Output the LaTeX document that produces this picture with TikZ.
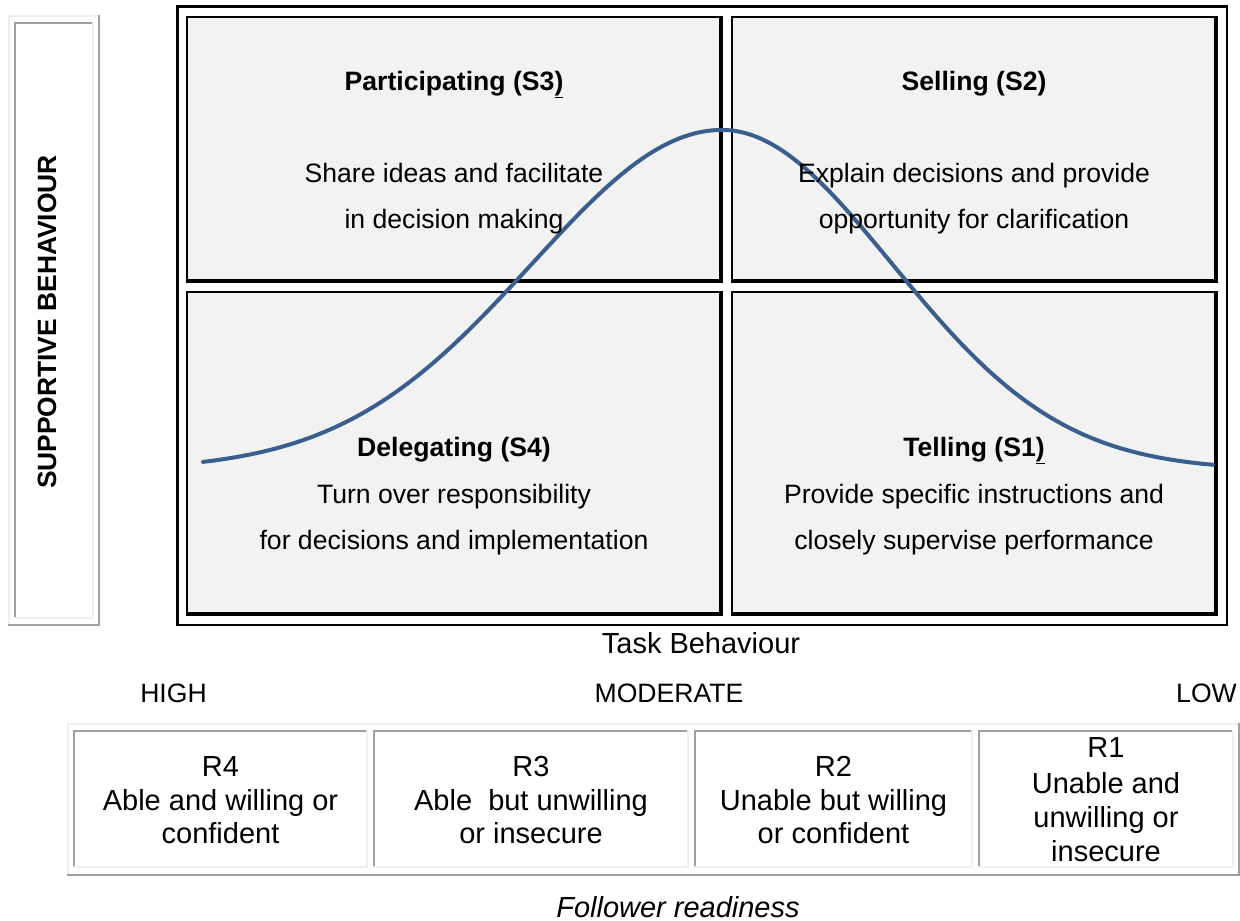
\documentclass[tikz,border=0pt]{standalone}
\usepackage{fontspec}
\setmainfont{Liberation Sans}
\definecolor{quadfill}{HTML}{F2F2F2}
\definecolor{curveblue}{HTML}{3A5F8E}
\definecolor{bevlight}{HTML}{EFEFEF}
\definecolor{bevdark}{HTML}{A0A0A0}
\newcommand\quadbox[4]{%
  \fill[quadfill] (#1,#2) rectangle (#3,#4);
  \draw[line width=2pt] ({#1+1},#4) -- ({#1+1},{#2+1}) -- (#3,{#2+1});
  \draw[line width=4pt] ({#3-2},#2) -- ({#3-2},{#4-2}) -- (#1,{#4-2});
}
\newcommand\bevelbox[6]{%
  \draw[#5,line width=2pt] ({#1+1},#4) -- ({#1+1},{#2+1}) -- (#3,{#2+1});
  \draw[#6,line width=2pt] (#1,{#4-1}) -- ({#3-1},{#4-1}) -- ({#3-1},#2);
}
\begin{document}
\begin{tikzpicture}[x=1pt,y=-1pt,
  qtxt/.style={font=\fontsize{26.6}{30}\selectfont, anchor=base, inner sep=0pt},
  qtitle/.style={font=\fontsize{26.6}{30}\selectfont\bfseries, anchor=base, inner sep=0pt},
  ctxt/.style={font=\fontsize{29}{33}\selectfont, anchor=base, inner sep=0pt},
  curve/.style={curveblue, line width=4pt, line cap=round, line join=round}]
\useasboundingbox (0,0) rectangle (1240,921);
\fill[white] (0,0) rectangle (1240,921);

% left vertical label box
\bevelbox{8}{15}{100}{626}{bevlight}{bevdark}
\bevelbox{14}{22}{94}{619}{bevdark}{bevlight}
\node[rotate=90, font=\fontsize{26.4}{30}\selectfont\bfseries, inner sep=0pt] (supp) at (47,322) {SUPPORTIVE BEHAVIOUR};

% outer frame
\draw[line width=3pt] (176,6.5) -- (1228,6.5);
\draw[line width=3pt] (177.5,5) -- (177.5,626);
\draw[line width=2pt] (176,625) -- (1228,625);
\draw[line width=2pt] (1227,5) -- (1227,626);

% quadrants
\quadbox{186}{16}{723}{283}
\quadbox{731}{16}{1218}{283}
\quadbox{186}{291}{723}{616}
\quadbox{731}{291}{1218}{616}

% curve (bell shape)
\draw[curve] plot[domain=203:722, samples=90, smooth]
   (\x, {470-340*exp(-0.5*((\x-722)/190)^2)})
 -- plot[domain=722:1213, samples=90, smooth]
   (\x, {470-340*exp(-0.5*((\x-722)/170)^2)});

% quadrant texts
\node[qtitle] (s3) at (454,90) {Participating (S3\underline{)}};
\node[qtxt] (s3a) at (454,182) {Share ideas and facilitate};
\node[qtxt] (s3b) at (454,228) {in decision making};

\node[qtitle] (s2) at (974,90) {Selling (S2)};
\node[qtxt] (s2a) at (974,182) {Explain decisions and provide};
\node[qtxt] (s2b) at (974,228) {opportunity for clarification};

\node[qtitle] (s4) at (454,456) {Delegating (S4)};
\node[qtxt] (s4a) at (454,503) {Turn over responsibility};
\node[qtxt] (s4b) at (454,549) {for decisions and implementation};

\node[qtitle] (s1) at (974,456) {Telling (S1\underline{)}};
\node[qtxt] (s1a) at (974,503) {Provide specific instructions and};
\node[qtxt] (s1b) at (974,549) {closely supervise performance};

% axis labels
\node[ctxt] (task) at (701,653) {Task Behaviour};
\node[qtxt] (high) at (173.5,702) {HIGH};
\node[qtxt] (mod) at (669,702) {MODERATE};
\node[qtxt] (low) at (1206.5,702) {LOW};

% readiness table
\bevelbox{67}{723}{1240}{876}{bevlight}{bevdark}
\bevelbox{73}{730}{368}{868}{bevdark}{bevlight}
\bevelbox{373}{730}{689}{868}{bevdark}{bevlight}
\bevelbox{694}{730}{973}{868}{bevdark}{bevlight}
\bevelbox{978}{730}{1234}{868}{bevdark}{bevlight}

\node[ctxt] (r4) at (220.5,776) {R4};
\node[ctxt] (r4a) at (220.5,810) {Able and willing or};
\node[ctxt] (r4b) at (220.5,843) {confident};

\node[ctxt] (r3) at (531,776) {R3};
\node[ctxt] (r3a) at (531,810) {Able\ \ but unwilling};
\node[ctxt] (r3b) at (531,843) {or insecure};

\node[ctxt] (r2) at (833.5,776) {R2};
\node[ctxt] (r2a) at (833.5,810) {Unable but willing};
\node[ctxt] (r2b) at (833.5,843) {or confident};

\node[ctxt] (r1) at (1106,757) {R1};
\node[ctxt] (r1a) at (1106,793) {Unable and};
\node[ctxt] (r1b) at (1106,827) {unwilling or};
\node[ctxt] (r1c) at (1106,861) {insecure};

\node[ctxt, font=\fontsize{29}{33}\selectfont\itshape] (foll) at (678,917) {Follower readiness};
\end{tikzpicture}
\end{document}
